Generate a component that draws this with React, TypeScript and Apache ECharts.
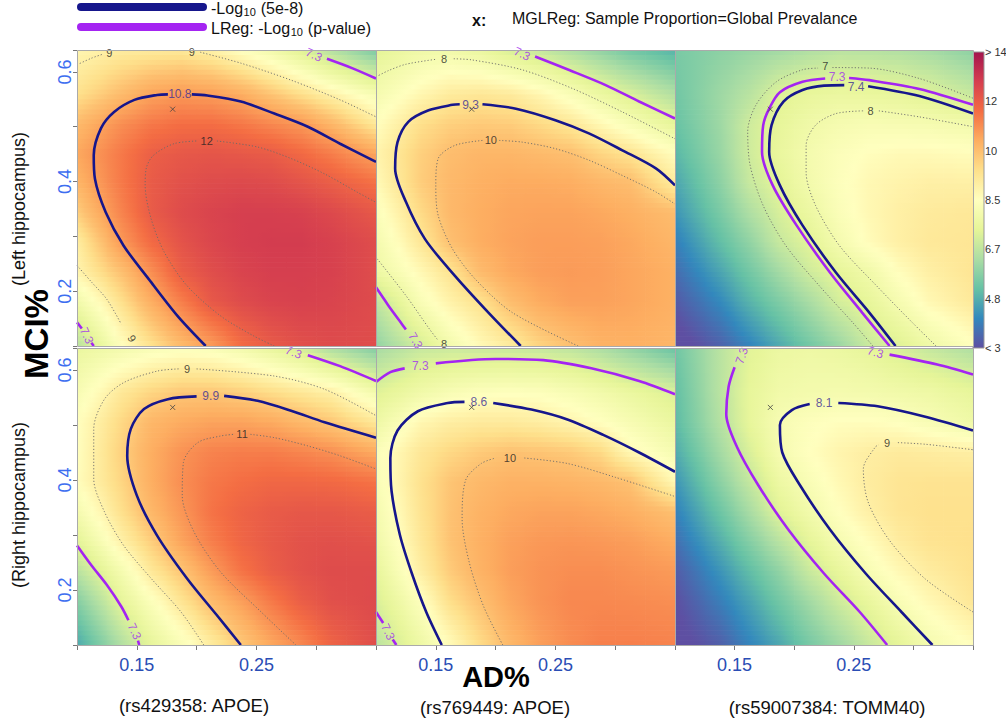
import React, { useEffect, useRef } from "react";
import * as echarts from "echarts";

// ---------- grid of the heat fields (cell centres) ----------
const X_CENTERS = [0.1125, 0.1375, 0.1625, 0.1875, 0.2125, 0.2375, 0.2625, 0.2875, 0.3125, 0.3375];
const Y_CENTERS = [0.613, 0.559, 0.505, 0.451, 0.397, 0.343, 0.289, 0.235, 0.181, 0.127];
const CELL_W = 0.025;
const CELL_H = 0.054;

// rows top (y=0.613) to bottom (y=0.127)
const P1_VALUES = [
  [9.1, 9.4, 9.6, 9.7, 9.5, 9.1, 8.6, 8.0, 7.3, 6.7],
  [9.6, 10.1, 10.6, 10.8, 10.7, 10.4, 9.9, 9.4, 8.9, 8.4],
  [10.4, 11.0, 11.4, 11.6, 11.6, 11.4, 11.1, 10.8, 10.2, 9.5],
  [10.8, 11.4, 11.95, 12.13, 12.2, 12.13, 12.03, 11.7, 11.3, 10.8],
  [10.6, 11.4, 12.07, 12.33, 12.46, 12.52, 12.46, 12.26, 12.0, 11.7],
  [10.2, 11.2, 12.07, 12.46, 12.65, 12.78, 12.78, 12.72, 12.52, 12.26],
  [9.6, 10.8, 11.7, 12.26, 12.59, 12.78, 12.85, 12.85, 12.72, 12.52],
  [9.2, 10.0, 11.0, 12.0, 12.39, 12.65, 12.78, 12.78, 12.72, 12.52],
  [8.4, 9.4, 10.4, 11.3, 12.13, 12.46, 12.65, 12.72, 12.65, 12.52],
  [7.6, 8.8, 9.7, 10.5, 11.2, 11.9, 12.26, 12.46, 12.52, 12.46],
];
const P2_VALUES = [
  [7.8, 8.15, 8.3, 8.15, 7.8, 7.45, 7.0, 6.5, 6.0, 5.6],
  [8.3, 8.75, 9.1, 9.2, 9.1, 8.75, 8.25, 7.7, 7.2, 6.7],
  [8.8, 9.4, 9.7, 9.8, 9.75, 9.5, 9.2, 8.7, 8.2, 7.7],
  [9.1, 9.7, 10.05, 10.2, 10.2, 10.1, 10.0, 9.6, 9.3, 8.8],
  [9.0, 9.75, 10.15, 10.35, 10.45, 10.45, 10.4, 10.2, 10.05, 9.4],
  [8.7, 9.5, 10.15, 10.4, 10.55, 10.6, 10.6, 10.5, 10.35, 10.15],
  [8.4, 9.2, 10.0, 10.4, 10.6, 10.7, 10.7, 10.65, 10.5, 10.3],
  [8.05, 8.7, 9.3, 10.1, 10.5, 10.7, 10.75, 10.7, 10.55, 10.4],
  [7.2, 8.25, 8.9, 9.35, 10.05, 10.45, 10.65, 10.65, 10.55, 10.4],
  [6.6, 7.5, 8.3, 8.9, 9.4, 9.9, 10.2, 10.4, 10.4, 10.3],
];
const P3_VALUES = [
  [5.6, 5.9, 6.2, 6.55, 6.8, 6.95, 6.9, 6.8, 6.6, 6.3],
  [5.6, 6.1, 6.6, 7.3, 7.55, 7.65, 7.6, 7.5, 7.3, 7.0],
  [5.5, 6.1, 7.0, 7.5, 7.85, 8.1, 8.2, 8.15, 8.1, 8.0],
  [5.3, 6.0, 7.0, 7.6, 8.05, 8.35, 8.55, 8.65, 8.65, 8.6],
  [5.0, 5.8, 6.85, 7.4, 7.98, 8.4, 8.7, 8.85, 8.95, 8.95],
  [4.7, 5.5, 6.4, 7.15, 7.7, 8.3, 8.7, 8.95, 9.1, 9.15],
  [4.3, 5.1, 5.9, 6.85, 7.35, 8.05, 8.6, 8.95, 9.15, 9.2],
  [3.9, 4.6, 5.4, 6.2, 7.0, 7.45, 7.9, 8.55, 8.95, 9.15],
  [3.5, 4.1, 4.9, 5.6, 6.3, 7.1, 7.5, 8.1, 8.7, 9.0],
  [3.1, 3.6, 4.3, 5.0, 5.7, 6.4, 7.1, 7.55, 8.1, 8.5],
];
const P4_VALUES = [
  [8.0, 8.4, 8.7, 8.85, 8.8, 8.55, 8.2, 7.8, 7.25, 6.7],
  [8.5, 9.2, 9.6, 9.85, 9.85, 9.7, 9.45, 9.2, 8.95, 8.3],
  [8.85, 9.55, 10.2, 10.45, 10.6, 10.6, 10.45, 10.15, 9.85, 9.4],
  [8.9, 9.7, 10.4, 10.9, 11.2, 11.3, 11.3, 11.15, 10.95, 10.6],
  [8.9, 9.6, 10.4, 11.0, 11.4, 11.6, 11.75, 11.75, 11.7, 11.55],
  [8.5, 9.4, 10.2, 10.85, 11.5, 11.85, 12.05, 12.15, 12.15, 12.05],
  [7.9, 8.95, 9.75, 10.6, 11.3, 11.8, 12.1, 12.3, 12.35, 12.3],
  [7.1, 8.1, 9.2, 9.9, 10.75, 11.5, 12.0, 12.3, 12.45, 12.45],
  [6.3, 7.5, 8.4, 9.3, 10.1, 10.7, 11.4, 12.0, 12.35, 12.45],
  [5.6, 6.8, 7.8, 8.6, 9.4, 10.1, 10.8, 11.4, 12.0, 12.3],
];
const P5_VALUES = [
  [6.8, 7.2, 7.35, 7.4, 7.4, 7.35, 7.2, 6.9, 6.5, 6.1],
  [7.5, 7.9, 8.2, 8.4, 8.45, 8.4, 8.2, 7.95, 7.65, 7.35],
  [8.1, 8.75, 9.0, 9.1, 9.1, 9.0, 8.8, 8.5, 8.15, 7.8],
  [8.6, 9.2, 9.55, 9.8, 9.95, 9.9, 9.8, 9.5, 8.7, 8.3],
  [8.6, 9.35, 9.9, 10.15, 10.3, 10.3, 10.25, 10.15, 9.95, 9.1],
  [8.45, 9.3, 9.95, 10.3, 10.5, 10.6, 10.6, 10.5, 10.35, 10.1],
  [8.3, 9.2, 9.95, 10.35, 10.65, 10.8, 10.85, 10.8, 10.7, 10.5],
  [8.0, 9.0, 9.8, 10.3, 10.7, 10.9, 11.0, 11.0, 10.9, 10.8],
  [7.6, 8.45, 9.45, 10.0, 10.55, 10.9, 11.1, 11.1, 11.05, 11.0],
  [7.2, 8.0, 8.9, 9.65, 10.3, 10.75, 11.05, 11.2, 11.2, 11.15],
];
const P6_VALUES = [
  [5.7, 6.6, 7.4, 7.75, 7.85, 7.8, 7.65, 7.4, 7.15, 6.9],
  [5.6, 6.6, 7.5, 7.9, 8.0, 8.05, 8.0, 7.9, 7.8, 7.6],
  [5.5, 6.5, 7.5, 8.15, 8.4, 8.55, 8.55, 8.45, 8.2, 7.95],
  [5.2, 6.2, 7.2, 8.1, 8.5, 8.8, 9.0, 9.1, 9.05, 9.0],
  [4.8, 5.8, 6.8, 7.75, 8.25, 8.7, 9.05, 9.25, 9.3, 9.3],
  [4.4, 5.3, 6.3, 7.35, 7.95, 8.5, 8.95, 9.25, 9.35, 9.35],
  [4.0, 4.8, 5.7, 6.6, 7.45, 8.1, 8.6, 9.05, 9.3, 9.35],
  [3.6, 4.3, 5.1, 5.9, 6.9, 7.55, 8.2, 8.7, 9.05, 9.25],
  [3.3, 3.9, 4.6, 5.4, 6.2, 7.0, 7.6, 8.25, 8.7, 9.05],
  [3.05, 3.5, 4.2, 4.9, 5.7, 6.4, 7.1, 7.7, 8.25, 8.6],
];

// ---------- contour lines (segments split where the label sits) ----------
const P1_CONTOURS = [
  { kind: "navy", segs: [
    [[0.2076, 0.1], [0.184, 0.155], [0.16, 0.222], [0.139, 0.283], [0.124, 0.344], [0.115, 0.405], [0.114, 0.448], [0.12, 0.497], [0.131, 0.527], [0.148, 0.549], [0.167, 0.558], [0.176, 0.559]],
    [[0.196, 0.559], [0.209, 0.557], [0.237, 0.546], [0.265, 0.524], [0.293, 0.5], [0.32, 0.469], [0.35, 0.436]],
  ], labels: [[0.186, 0.56, "10.8", 0]] },
  { kind: "dot", segs: [
    [[0.265, 0.1], [0.248, 0.118], [0.22, 0.155], [0.192, 0.21], [0.173, 0.271], [0.162, 0.332], [0.157, 0.393], [0.158, 0.425], [0.164, 0.448], [0.181, 0.469], [0.2, 0.474]],
    [[0.217, 0.474], [0.251, 0.463], [0.279, 0.442], [0.307, 0.414], [0.334, 0.381], [0.35, 0.362]],
  ], labels: [[0.2084, 0.474, "12", 0]] },
  { kind: "dot", segs: [
    [[0.1, 0.613], [0.112, 0.625], [0.121, 0.632]],
    [[0.203, 0.636], [0.237, 0.616], [0.279, 0.585], [0.32, 0.549], [0.35, 0.518]],
  ], labels: [[0.127, 0.634, "9", 0], [0.196, 0.637, "9", 0]] },
  { kind: "dot", segs: [
    [[0.1, 0.247], [0.112, 0.217], [0.125, 0.185], [0.137, 0.14]],
  ], labels: [[0.146, 0.114, "9", -60]] },
  { kind: "purple", segs: [
    [[0.309, 0.624], [0.33, 0.607], [0.35, 0.588]],
  ], labels: [[0.298, 0.631, "7.3", -25]] },
  { kind: "purple", segs: [
    [[0.1, 0.143], [0.104, 0.132]],
    [[0.112, 0.106], [0.114, 0.1]],
  ], labels: [[0.108, 0.119, "7.3", -65]] },
];

const P2_CONTOURS = [
  { kind: "navy", segs: [
    [[0.221, 0.1], [0.194, 0.161], [0.166, 0.228], [0.141, 0.295], [0.125, 0.363], [0.116, 0.424], [0.118, 0.472], [0.127, 0.509], [0.144, 0.53], [0.164, 0.54], [0.17, 0.541]],
    [[0.189, 0.541], [0.217, 0.533], [0.25, 0.512], [0.278, 0.488], [0.306, 0.457], [0.334, 0.424], [0.35, 0.393]],
  ], labels: [[0.179, 0.54, "9.3", 0]] },
  { kind: "dot", segs: [
    [[0.269, 0.1], [0.214, 0.161], [0.183, 0.222], [0.164, 0.277], [0.152, 0.338], [0.15, 0.393], [0.152, 0.442], [0.166, 0.466], [0.189, 0.475]],
    [[0.203, 0.475], [0.222, 0.472], [0.25, 0.46], [0.278, 0.439], [0.306, 0.411], [0.334, 0.381], [0.35, 0.359]],
  ], labels: [[0.196, 0.475, "10", 0]] },
  { kind: "dot", segs: [
    [[0.1, 0.591], [0.11, 0.602], [0.125, 0.614], [0.15, 0.623]],
    [[0.165, 0.624], [0.18, 0.622], [0.222, 0.604], [0.264, 0.57], [0.306, 0.527], [0.35, 0.478]],
  ], labels: [[0.157, 0.624, "8", 0]] },
  { kind: "dot", segs: [
    [[0.101, 0.259], [0.125, 0.192], [0.145, 0.13], [0.152, 0.11]],
  ], labels: [[0.157, 0.104, "8", 0]] },
  { kind: "purple", segs: [
    [[0.233, 0.628], [0.262, 0.603], [0.292, 0.576], [0.32, 0.546], [0.35, 0.515]],
  ], labels: [[0.222, 0.633, "7.3", -25]] },
  { kind: "purple", segs: [
    [[0.1, 0.207], [0.11, 0.175], [0.12, 0.145], [0.125, 0.13]],
  ], labels: [[0.133, 0.11, "7.3", -60]] },
];

const P3_CONTOURS = [
  { kind: "purple", segs: [
    [[0.28, 0.1], [0.257, 0.161], [0.23, 0.234], [0.202, 0.32], [0.182, 0.393], [0.173, 0.454], [0.174, 0.503], [0.179, 0.533], [0.188, 0.563], [0.207, 0.582], [0.226, 0.588]],
    [[0.246, 0.589], [0.263, 0.585], [0.305, 0.569], [0.35, 0.54]],
  ], labels: [[0.236, 0.591, "7.3", 0]] },
  { kind: "navy", segs: [
    [[0.285, 0.1], [0.263, 0.161], [0.235, 0.234], [0.207, 0.32], [0.188, 0.393], [0.179, 0.454], [0.181, 0.503], [0.191, 0.546], [0.207, 0.567], [0.225, 0.575], [0.242, 0.576]],
    [[0.262, 0.574], [0.305, 0.556], [0.35, 0.524]],
  ], labels: [[0.252, 0.572, "7.4", 0]] },
  { kind: "dot", segs: [
    [[0.266, 0.1], [0.249, 0.143], [0.221, 0.21], [0.193, 0.283], [0.174, 0.356], [0.163, 0.43], [0.161, 0.491], [0.168, 0.54], [0.185, 0.582], [0.207, 0.604], [0.22, 0.607]],
    [[0.232, 0.608], [0.263, 0.607], [0.305, 0.588], [0.35, 0.552]],
  ], labels: [[0.226, 0.611, "7", 0]] },
  { kind: "dot", segs: [
    [[0.319, 0.1], [0.299, 0.143], [0.269, 0.21], [0.238, 0.283], [0.218, 0.356], [0.21, 0.417], [0.21, 0.466], [0.218, 0.503], [0.235, 0.524], [0.258, 0.529]],
    [[0.271, 0.529], [0.305, 0.518], [0.35, 0.5]],
  ], labels: [[0.264, 0.529, "8", 0]] },
];

const P4_CONTOURS = [
  { kind: "navy", segs: [
    [[0.237, 0.1], [0.217, 0.154], [0.192, 0.221], [0.167, 0.299], [0.15, 0.372], [0.142, 0.444], [0.145, 0.493], [0.156, 0.529], [0.176, 0.547], [0.2, 0.552]],
    [[0.223, 0.553], [0.251, 0.544], [0.279, 0.526], [0.307, 0.505], [0.35, 0.477]],
  ], labels: [[0.2118, 0.552, "9.9", 0]] },
  { kind: "dot", segs: [
    [[0.283, 0.1], [0.254, 0.16], [0.22, 0.233], [0.198, 0.305], [0.188, 0.372], [0.189, 0.432], [0.201, 0.468], [0.22, 0.48], [0.231, 0.483]],
    [[0.245, 0.483], [0.265, 0.477], [0.293, 0.462], [0.32, 0.444], [0.35, 0.42]],
  ], labels: [[0.238, 0.483, "11", 0]] },
  { kind: "dot", segs: [
    [[0.206, 0.1], [0.187, 0.16], [0.162, 0.221], [0.139, 0.281], [0.123, 0.342], [0.114, 0.402], [0.114, 0.493], [0.123, 0.547], [0.139, 0.577], [0.167, 0.598], [0.185, 0.602]],
    [[0.2, 0.602], [0.265, 0.589], [0.307, 0.565], [0.35, 0.517]],
  ], labels: [[0.192, 0.602, "9", 0]] },
  { kind: "purple", segs: [
    [[0.293, 0.627], [0.32, 0.607], [0.35, 0.58]],
  ], labels: [[0.281, 0.632, "7.3", -20]] },
  { kind: "purple", segs: [
    [[0.1, 0.281], [0.112, 0.245], [0.125, 0.209], [0.137, 0.17], [0.143, 0.145]],
    [[0.151, 0.108], [0.152, 0.1]],
  ], labels: [[0.148, 0.125, "7.3", -65]] },
];

const P5_CONTOURS = [
  { kind: "navy", segs: [
    [[0.155, 0.1], [0.142, 0.16], [0.13, 0.23], [0.12, 0.3], [0.113, 0.38], [0.112, 0.44], [0.118, 0.49], [0.135, 0.525], [0.16, 0.54], [0.174, 0.542]],
    [[0.198, 0.54], [0.23, 0.528], [0.26, 0.51], [0.29, 0.482], [0.32, 0.45], [0.35, 0.415]],
  ], labels: [[0.186, 0.541, "8.6", 0]] },
  { kind: "purple", segs: [
    [[0.1, 0.578], [0.112, 0.596], [0.124, 0.603]],
    [[0.15, 0.612], [0.2, 0.62], [0.24, 0.618], [0.28, 0.603], [0.32, 0.58], [0.35, 0.556]],
  ], labels: [[0.137, 0.607, "7.3", 0]] },
  { kind: "dot", segs: [
    [[0.206, 0.1], [0.19, 0.17], [0.178, 0.25], [0.172, 0.33], [0.175, 0.4], [0.188, 0.43], [0.2, 0.44]],
    [[0.224, 0.44], [0.26, 0.43], [0.3, 0.405], [0.35, 0.37]],
  ], labels: [[0.212, 0.44, "10", 0]] },
  { kind: "purple", segs: [
    [[0.1, 0.16], [0.106, 0.14]],
    [[0.114, 0.11], [0.117, 0.1]],
  ], labels: [[0.11, 0.124, "7.3", -65]] },
];

const P6_CONTOURS = [
  { kind: "purple", segs: [
    [[0.278, 0.1], [0.255, 0.16], [0.225, 0.23], [0.195, 0.31], [0.17, 0.39], [0.152, 0.46], [0.143, 0.52], [0.145, 0.57], [0.15, 0.605]],
  ], labels: [[0.156, 0.626, "7.3", 70]] },
  { kind: "purple", segs: [
    [[0.28, 0.628], [0.32, 0.61], [0.35, 0.592]],
  ], labels: [[0.268, 0.632, "7.3", -15]] },
  { kind: "navy", segs: [
    [[0.316, 0.1], [0.29, 0.16], [0.26, 0.23], [0.23, 0.31], [0.205, 0.39], [0.19, 0.45], [0.188, 0.5], [0.198, 0.527], [0.213, 0.538]],
    [[0.237, 0.54], [0.27, 0.534], [0.31, 0.515], [0.35, 0.49]],
  ], labels: [[0.225, 0.54, "8.1", 0]] },
  { kind: "dot", segs: [
    [[0.35, 0.16], [0.31, 0.22], [0.28, 0.29], [0.262, 0.36], [0.258, 0.42], [0.268, 0.46], [0.271, 0.464]],
    [[0.287, 0.468], [0.31, 0.465], [0.35, 0.455]],
  ], labels: [[0.278, 0.468, "9", 0]] },
];

const MARKER = [0.18, 0.532];

// ---------- scale / labels ----------
const SPECTRAL = ["#5e4fa2", "#3288bd", "#66c2a5", "#abdda4", "#e6f598", "#ffffbf", "#fee08b", "#fdae61", "#f46d43", "#d53e4f", "#a3154e"];
const COLOR_VALUES = [3, 4.8, 6.7, 8.5, 10, 12, 14];
const COLORBAR_LABELS = ["> 14", "12", "10", "8.5", "6.7", "4.8", "< 3"];
const X_TICK_LABELS = ["0.15", "0.25"];
const Y_TICK_LABELS = ["0.2", "0.4", "0.6"];
const SNP_LABELS = ["(rs429358: APOE)", "(rs769449: APOE)", "(rs59007384: TOMM40)"];
const ROW_LABELS = ["(Left hippocampus)", "(Right hippocampus)"];

// ---------- layout ----------
const FONT = "'Liberation Sans', Arial, Helvetica, sans-serif";
const COL_LEFT = [77, 376, 675];
const COL_WIDTH = [299, 299, 298];
const ROW_TOP = [50, 348];
const ROW_HEIGHT = [296, 297];
const NAVY = "#16168c";
const PURPLE = "#a424f2";
const STRIPS = 6;

function hexToRgb(h: string) {
  const n = parseInt(h.slice(1), 16);
  return [(n >> 16) & 255, (n >> 8) & 255, n & 255];
}
function colorFor(v: number) {
  let pos = 0;
  if (v <= COLOR_VALUES[0]) pos = 0;
  else if (v >= COLOR_VALUES[6]) pos = 6;
  else {
    for (let i = 0; i < 6; i++) {
      if (v <= COLOR_VALUES[i + 1]) {
        pos = i + (v - COLOR_VALUES[i]) / (COLOR_VALUES[i + 1] - COLOR_VALUES[i]);
        break;
      }
    }
  }
  const t = (pos / 6) * 10;
  const i = Math.min(9, Math.floor(t));
  const f = t - i;
  const a = hexToRgb(SPECTRAL[i]);
  const b = hexToRgb(SPECTRAL[i + 1]);
  const c = a.map((x, k) => Math.round(x + (b[k] - x) * f));
  return `rgb(${c[0]},${c[1]},${c[2]})`;
}

function textWidth(t: string, size: number, weight = "normal") {
  const ctx = document.createElement("canvas").getContext("2d")!;
  ctx.font = `${weight} ${size}px ${FONT}`;
  return ctx.measureText(t).width;
}

const LINE_STYLE: any = {
  navy: { color: NAVY, width: 2.6 },
  purple: { color: PURPLE, width: 2.6 },
  dot: { color: "#6a6a6a", width: 0.9, type: [1.2, 2] },
};
const LABEL_STYLE: any = {
  navy: { color: "#3b2f95", fontSize: 12 },
  purple: { color: "#a030ee", fontSize: 12 },
  dot: { color: "#222", fontSize: 11 },
};

function buildOption() {
  const panels = [
    { values: P1_VALUES, contours: P1_CONTOURS },
    { values: P2_VALUES, contours: P2_CONTOURS },
    { values: P3_VALUES, contours: P3_CONTOURS },
    { values: P4_VALUES, contours: P4_CONTOURS },
    { values: P5_VALUES, contours: P5_CONTOURS },
    { values: P6_VALUES, contours: P6_CONTOURS },
  ];
  const grid: any[] = [];
  const xAxis: any[] = [];
  const yAxis: any[] = [];
  const series: any[] = [];
  const graphic: any[] = [];

  panels.forEach((p, idx) => {
    const r = Math.floor(idx / 3);
    const c = idx % 3;
    grid.push({ left: COL_LEFT[c], top: ROW_TOP[r], width: COL_WIDTH[c], height: ROW_HEIGHT[r] });
    const bottom = r === 1;
    xAxis.push({
      gridIndex: idx, type: "value", min: 0.1, max: 0.35, interval: 0.05,
      axisLine: { show: false }, splitLine: { show: false },
      axisTick: { show: bottom, length: 5, lineStyle: { color: "#777" } },
      axisLabel: {
        show: bottom, color: "#2a4db5", fontSize: 18, fontFamily: FONT, margin: 11,
        formatter: (v: number) => X_TICK_LABELS.find((s) => Math.abs(parseFloat(s) - v) < 1e-6) || "",
      },
    });
    yAxis.push({
      gridIndex: idx, type: "value", min: 0.1, max: 0.64, interval: 0.1,
      axisLine: { show: false }, splitLine: { show: false },
      axisTick: { show: true, length: 4, lineStyle: { color: "#777" } },
      axisLabel: {
        show: c === 0, color: "#3d6ef0", fontSize: 18, fontFamily: FONT, margin: 3, rotate: 90,
        formatter: (v: number) => Y_TICK_LABELS.find((s) => Math.abs(parseFloat(s) - v) < 1e-6) || "",
      },
    });

    const vals = p.values;
    const nR = vals.length;
    const nC = vals[0].length;
    // value lookup; beyond the border the slope of the last two cells is continued (shading only)
    const gv = (ri: number, ci: number): number => {
      if (ri < 0) return 2 * gv(0, ci) - gv(1, ci);
      if (ri >= nR) return 2 * gv(nR - 1, ci) - gv(nR - 2, ci);
      if (ci < 0) return 2 * gv(ri, 0) - gv(ri, 1);
      if (ci >= nC) return 2 * gv(ri, nC - 1) - gv(ri, nC - 2);
      return vals[ri][ci];
    };
    const cells: number[][] = [];
    vals.forEach((row, ri) => row.forEach((v, ci) => cells.push([X_CENTERS[ci], Y_CENTERS[ri], v, ri, ci])));
    // each cell is shaded smoothly towards its neighbours (bilinear shading between cell centres)
    series.push({
      type: "custom", coordinateSystem: "cartesian2d", xAxisIndex: idx, yAxisIndex: idx,
      data: cells, encode: { x: 0, y: 1 }, silent: true, z: 1, clip: true,
      renderItem: (params: any, api: any) => {
        const x = api.value(0), y = api.value(1);
        const ri = api.value(3), ci = api.value(4);
        const a = api.coord([x - CELL_W / 2, y + CELL_H / 2]);
        const b = api.coord([x + CELL_W / 2, y - CELL_H / 2]);
        const w = b[0] - a[0];
        const hs = (b[1] - a[1]) / STRIPS;
        const children: any[] = [];
        for (let s = 0; s < STRIPS; s++) {
          const dy = (s + 0.5) / STRIPS - 0.5;
          const nr = dy < 0 ? ri - 1 : ri + 1;
          const f = Math.abs(dy);
          const rowAt = (k: number) => gv(ri, k) + f * (gv(nr, k) - gv(ri, k));
          const c0 = rowAt(ci), cl = rowAt(ci - 1), cr = rowAt(ci + 1);
          const stops = [-0.5, -0.25, 0, 0.25, 0.5].map((dx) => ({
            offset: dx + 0.5,
            color: colorFor(dx < 0 ? c0 + -dx * (cl - c0) : c0 + dx * (cr - c0)),
          }));
          children.push({
            type: "rect",
            shape: { x: a[0], y: a[1] + s * hs, width: w + 0.7, height: hs + 0.7 },
            style: { fill: new echarts.graphic.LinearGradient(0, 0, 1, 0, stops) },
          });
        }
        return { type: "group", children };
      },
    });

    const labelItems: any[] = [];
    p.contours.forEach((ct: any) => {
      ct.segs.forEach((seg: number[][]) => {
        series.push({
          type: "line", xAxisIndex: idx, yAxisIndex: idx, data: seg, smooth: 0.3,
          symbol: "none", silent: true, z: 3, lineStyle: LINE_STYLE[ct.kind],
        });
      });
      ct.labels.forEach((l: any[]) => {
        labelItems.push({
          value: [l[0], l[1]],
          label: { show: true, position: "inside", formatter: l[2], rotate: l[3], fontFamily: FONT, ...LABEL_STYLE[ct.kind] },
        });
      });
    });
    series.push({ type: "scatter", xAxisIndex: idx, yAxisIndex: idx, symbolSize: 0, silent: true, z: 4, data: labelItems });
    series.push({
      type: "scatter", xAxisIndex: idx, yAxisIndex: idx, silent: true, z: 5,
      symbol: "path://M0 0L10 10M10 0L0 10", symbolSize: 5,
      itemStyle: { color: "rgba(0,0,0,0)", borderColor: "#444", borderWidth: 1 },
      data: [MARKER],
    });

    graphic.push({
      type: "rect", silent: true, z: 50,
      shape: { x: COL_LEFT[c] + 0.5, y: ROW_TOP[r] + 0.5, width: COL_WIDTH[c], height: ROW_HEIGHT[r] },
      style: { fill: "none", stroke: "#aaa", lineWidth: 1 },
    });
  });

  // legend
  const legendRows = [
    { color: NAVY, y: 8, parts: ["-Log", "10", " (5e-8)"] },
    { color: PURPLE, y: 28, parts: ["LReg: -Log", "10", " (p-value)"] },
  ];
  legendRows.forEach((lr) => {
    graphic.push({ type: "line", silent: true, shape: { x1: 81, y1: lr.y - 1, x2: 203, y2: lr.y - 1 }, style: { stroke: lr.color, lineWidth: 8, lineCap: "round" } });
    let x = 211;
    const w0 = textWidth(lr.parts[0], 16);
    graphic.push({ type: "text", silent: true, x, y: lr.y, style: { text: lr.parts[0], font: `16px ${FONT}`, fill: "#111", textVerticalAlign: "middle" } });
    x += w0;
    const w1 = textWidth(lr.parts[1], 11);
    graphic.push({ type: "text", silent: true, x: x + 0.5, y: lr.y + 4, style: { text: lr.parts[1], font: `11px ${FONT}`, fill: "#111", textVerticalAlign: "middle" } });
    x += w1 + 1;
    graphic.push({ type: "text", silent: true, x, y: lr.y, style: { text: lr.parts[2], font: `16px ${FONT}`, fill: "#111", textVerticalAlign: "middle" } });
  });
  graphic.push({ type: "text", silent: true, x: 472, y: 20, style: { text: "x:", font: `bold 16px ${FONT}`, fill: "#111", textVerticalAlign: "middle" } });
  graphic.push({ type: "text", silent: true, x: 512, y: 18, style: { text: "MGLReg: Sample Proportion=Global Prevalance", font: `16px ${FONT}`, fill: "#111", textVerticalAlign: "middle" } });

  // colour bar
  graphic.push({
    type: "rect", silent: true, shape: { x: 973, y: 52, width: 11, height: 296 },
    style: {
      fill: new echarts.graphic.LinearGradient(0, 1, 0, 0, SPECTRAL.map((col, i) => ({ offset: i / 10, color: col }))),
      stroke: "#999", lineWidth: 1,
    },
  });
  COLORBAR_LABELS.forEach((t, i) => {
    graphic.push({ type: "text", silent: true, x: 985, y: 52 + (i * 296) / 6, style: { text: t, font: `11px ${FONT}`, fill: "#333", textVerticalAlign: "middle" } });
  });

  // axis titles
  graphic.push({ type: "text", silent: true, x: 496, y: 677, style: { text: "AD%", font: `bold 29px ${FONT}`, fill: "#000", textAlign: "center", textVerticalAlign: "middle" } });
  graphic.push({ type: "text", silent: true, x: 36, y: 334, rotation: Math.PI / 2, style: { text: "MCI%", font: `bold 33px ${FONT}`, fill: "#000", textAlign: "center", textVerticalAlign: "middle" } });
  graphic.push({ type: "text", silent: true, x: 19, y: 209, rotation: Math.PI / 2, style: { text: ROW_LABELS[0], font: `18px ${FONT}`, fill: "#111", textAlign: "center", textVerticalAlign: "middle" } });
  graphic.push({ type: "text", silent: true, x: 19, y: 505, rotation: Math.PI / 2, style: { text: ROW_LABELS[1], font: `18px ${FONT}`, fill: "#111", textAlign: "center", textVerticalAlign: "middle" } });
  const snpX = [194, 495, 827];
  SNP_LABELS.forEach((t, i) => {
    graphic.push({ type: "text", silent: true, x: snpX[i], y: i === 0 ? 705 : 707, style: { text: t, font: `18.5px ${FONT}`, fill: "#111", textAlign: "center", textVerticalAlign: "middle" } });
  });

  return { animation: false, grid, xAxis, yAxis, series, graphic };
}

export default function App() {
  const ref = useRef<HTMLDivElement>(null);
  useEffect(() => {
    const chart = echarts.init(ref.current!, undefined, { renderer: "svg" });
    chart.setOption(buildOption() as any);
    return () => chart.dispose();
  }, []);
  return <div ref={ref} style={{ position: "absolute", left: 0, top: 0, width: 1006, height: 723 }} />;
}
